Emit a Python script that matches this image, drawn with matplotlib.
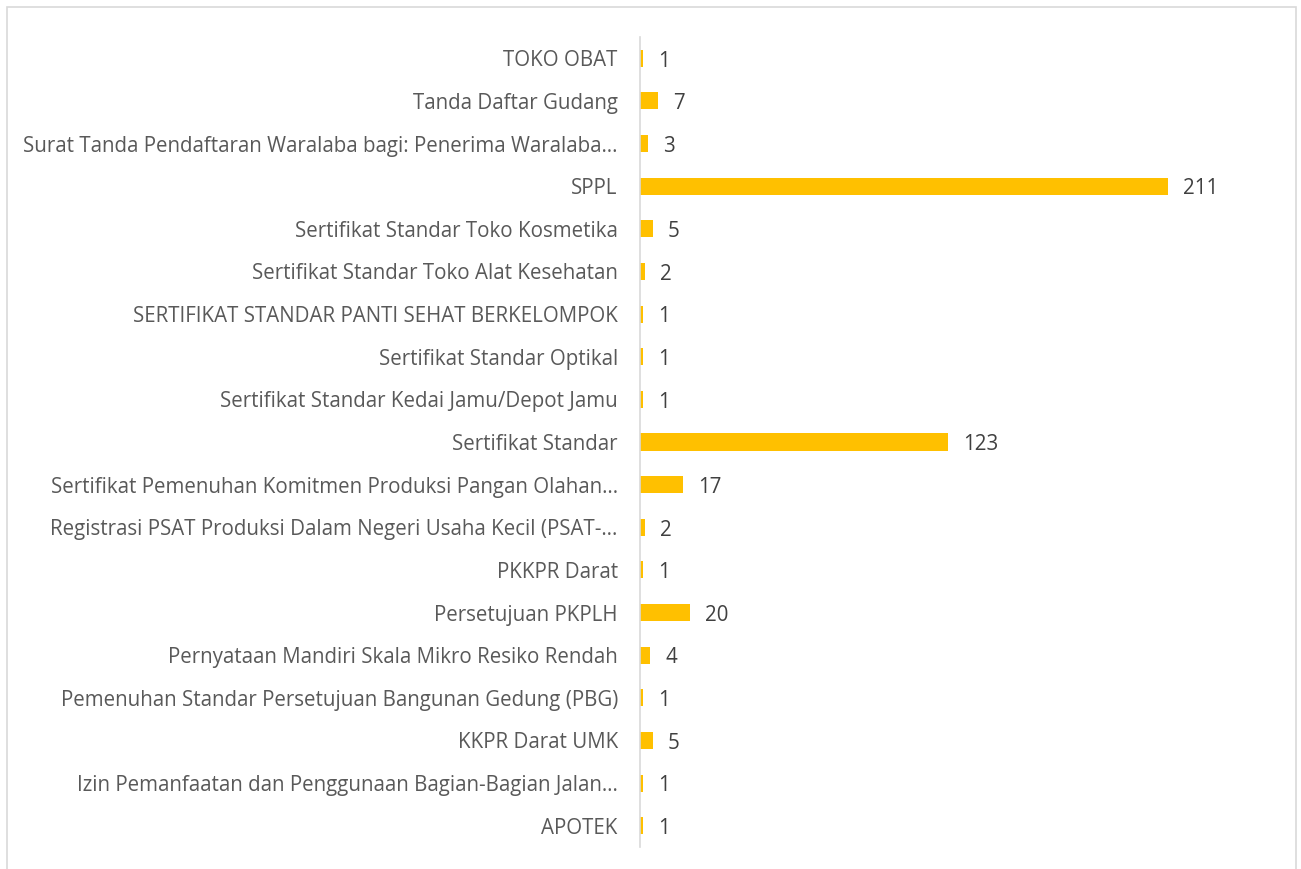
import matplotlib.pyplot as plt
from matplotlib.patches import Rectangle

categories = [
    "TOKO OBAT",
    "Tanda Daftar Gudang",
    "Surat Tanda Pendaftaran Waralaba bagi: Penerima Waralaba…",
    "SPPL",
    "Sertifikat Standar Toko Kosmetika",
    "Sertifikat Standar Toko Alat Kesehatan",
    "SERTIFIKAT STANDAR PANTI SEHAT BERKELOMPOK",
    "Sertifikat Standar Optikal",
    "Sertifikat Standar Kedai Jamu/Depot Jamu",
    "Sertifikat Standar",
    "Sertifikat Pemenuhan Komitmen Produksi Pangan Olahan…",
    "Registrasi PSAT Produksi Dalam Negeri Usaha Kecil (PSAT-…",
    "PKKPR Darat",
    "Persetujuan PKPLH",
    "Pernyataan Mandiri Skala Mikro Resiko Rendah",
    "Pemenuhan Standar Persetujuan Bangunan Gedung (PBG)",
    "KKPR Darat UMK",
    "Izin Pemanfaatan dan Penggunaan Bagian-Bagian Jalan…",
    "APOTEK",
]
counts = [1, 7, 3, 211, 5, 2, 1, 1, 1, 123, 17, 2, 1, 20, 4, 1, 5, 1, 1]

plt.rcParams['font.family'] = ['Open Sans', 'DejaVu Sans']

fig = plt.figure(figsize=(13.01, 8.69), dpi=100)
ax = fig.add_axes([640 / 1301, 22 / 869, 625 / 1301, 810 / 869])

pos = list(range(len(categories)))
ax.barh(pos, counts, height=0.4, color='#FFC000')
ax.set_ylim(len(categories) - 0.5, -0.5)
ax.set_xlim(0, 250)
ax.set_yticks(pos)
ax.set_yticklabels(categories, fontsize=14.8, color='#595959')
ax.tick_params(axis='y', length=0, pad=16)
ax.set_xticks([])

for side in ['top', 'right', 'bottom']:
    ax.spines[side].set_visible(False)
ax.spines['left'].set_color('#D9D9D9')
ax.spines['left'].set_linewidth(1.2)

# data labels, nudged a little down like in the original
for p, v in zip(pos, counts):
    ax.annotate(str(v), (v, p), xytext=(11, -2), textcoords='offset points',
                va='center', ha='left', fontsize=14.8, color='#404040')

# chart border
fig.patches.append(Rectangle((7 / 1301, -0.01), 1289 / 1301, 1.01 - 7 / 869,
                             transform=fig.transFigure, fill=False,
                             edgecolor='#D9D9D9', linewidth=1.2))

fig.savefig('out.png', dpi=100, facecolor='white')
